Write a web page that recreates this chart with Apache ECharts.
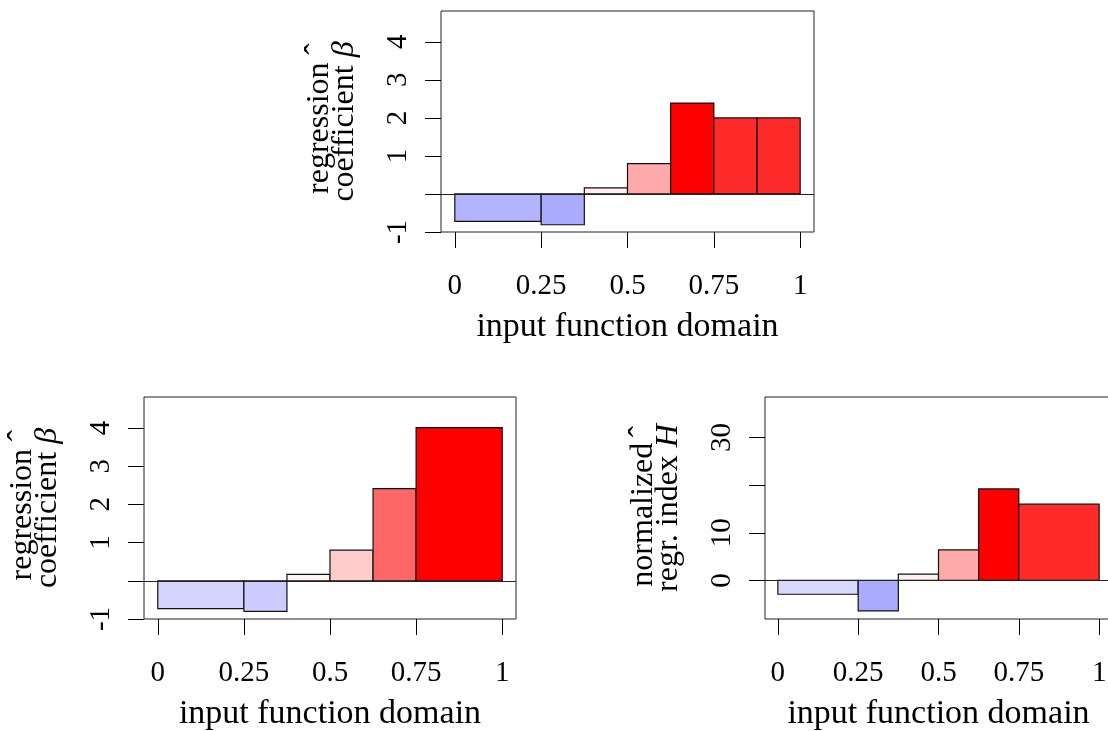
<!DOCTYPE html>
<html>
<head>
<meta charset="utf-8">
<script src="https://cdn.jsdelivr.net/npm/echarts@6/dist/echarts.min.js"></script>
<style>
html,body{margin:0;padding:0;background:#fff;}
#c{width:1108px;height:731px;}
</style>
</head>
<body>
<div id="c"></div>
<script>
// ---- data ----
const xTickValues = [0, 0.25, 0.5, 0.75, 1];
const xTickLabels = ['0', '0.25', '0.5', '0.75', '1'];

// top panel: regression coefficient (fine bins)
const topStarts = [0, 0.25, 0.375, 0.5, 0.625, 0.75, 0.875];
const topEnds   = [0.25, 0.375, 0.5, 0.625, 0.75, 0.875, 1];
const topBeta   = [-0.72, -0.81, 0.16, 0.80, 2.39, 2.00, 2.00];
const topColors = ['#b3b3ff', '#aaaaff', '#ffeeee', '#ffaaaa', '#ff0000', '#ff2b2b', '#ff2b2b'];

// bottom-left panel: regression coefficient (merged last bin)
const blStarts = [0, 0.25, 0.375, 0.5, 0.625, 0.75];
const blEnds   = [0.25, 0.375, 0.5, 0.625, 0.75, 1];
const blBeta   = [-0.73, -0.80, 0.17, 0.80, 2.41, 4.01];
const blColors = ['#d4d4ff', '#ccccff', '#fff4f4', '#ffcccc', '#ff6666', '#ff0000'];

// bottom-right panel: normalized regression index
const brStarts = [0, 0.25, 0.375, 0.5, 0.625, 0.75];
const brEnds   = [0.25, 0.375, 0.5, 0.625, 0.75, 1];
const brH      = [-2.9, -6.4, 1.3, 6.4, 19.2, 16.0];
const brColors = ['#d8d8ff', '#aaaaff', '#ffefef', '#ffaaaa', '#ff0000', '#ff2b2b'];

const betaTickValues = [-1, 0, 1, 2, 3, 4];
const betaLabelValues = [-1, 1, 2, 3, 4];
const hTickValues = [0, 10, 20, 30];
const hLabelValues = [0, 10, 30];

// ---- chart ----
const FONT = 'Liberation Serif';
const chart = echarts.init(document.getElementById('c'), null, {renderer: 'canvas'});

const richTxt = {
  a: {fontFamily: FONT, fontSize: 32, color: '#000', lineHeight: 25, align: 'center'},
  b: {fontFamily: FONT, fontSize: 32, color: '#000', fontStyle: 'italic', lineHeight: 25, align: 'center'},
  h: {fontFamily: FONT, fontSize: 34, color: '#000', lineHeight: 25, align: 'right', padding: [0, 2, 0, 0]}
};

function xAxisFor(gi) {
  return {
    type: 'value', gridIndex: gi, min: -0.04, max: 1.04,
    name: 'input function domain', nameLocation: 'middle', nameGap: 78,
    nameTextStyle: {fontFamily: FONT, fontSize: 34, color: '#000'},
    axisLine: {show: false, onZero: false},
    splitLine: {show: false},
    axisTick: {show: true, length: 16, inside: false, customValues: xTickValues,
               lineStyle: {color: '#000', width: 1}},
    axisLabel: {show: true, margin: 40, customValues: xTickValues,
                fontFamily: FONT, fontSize: 29, color: '#000',
                formatter: v => xTickLabels[xTickValues.indexOf(v)] ?? String(v)}
  };
}
function yAxisFor(gi, min, max, ticks, labels, name) {
  return {
    type: 'value', gridIndex: gi, min: min, max: max,
    name: name, nameLocation: 'middle', nameGap: 84, nameRotate: 90,
    nameTextStyle: {fontFamily: FONT, fontSize: 32, color: '#000', lineHeight: 25, rich: richTxt},
    axisLine: {show: false, onZero: false},
    splitLine: {show: false},
    axisTick: {show: true, length: 16, inside: false, customValues: ticks,
               lineStyle: {color: '#000', width: 1}},
    axisLabel: {show: true, rotate: 90, margin: 28, customValues: labels,
                fontFamily: FONT, fontSize: 29, color: '#000'}
  };
}

function barSeries(gi, starts, ends, vals, colors) {
  return {
    type: 'custom', xAxisIndex: gi, yAxisIndex: gi,
    data: starts.map((s, i) => [s, ends[i], vals[i]]),
    encode: {x: [0, 1], y: 2},
    renderItem: function (params, api) {
      const p0 = api.coord([api.value(0), 0]);
      const p1 = api.coord([api.value(1), api.value(2)]);
      return {
        type: 'rect',
        shape: {x: p0[0], y: Math.min(p0[1], p1[1]), width: p1[0] - p0[0], height: Math.abs(p1[1] - p0[1])},
        style: {fill: colors[params.dataIndex], stroke: '#111', lineWidth: 1.2}
      };
    },
    markLine: {
      silent: true, symbol: 'none', label: {show: false},
      lineStyle: {color: '#222', width: 1, type: 'solid'},
      data: [{yAxis: 0}]
    },
    z: 2
  };
}

const gridStyle = {show: true, borderColor: '#222', borderWidth: 1, backgroundColor: 'transparent',
                   containLabel: false, outerBoundsMode: 'none'};

chart.setOption({
  animation: false,
  textStyle: {fontFamily: FONT},
  grid: [
    Object.assign({left: 441, top: 11, width: 373, height: 221}, gridStyle),
    Object.assign({left: 144, top: 397, width: 372, height: 222}, gridStyle),
    Object.assign({left: 765, top: 397, width: 347, height: 222}, gridStyle)
  ],
  xAxis: [xAxisFor(0), xAxisFor(1), xAxisFor(2)],
  yAxis: [
    yAxisFor(0, -1, 4.81, betaTickValues, betaLabelValues,
             '{a|regression}{h|ˆ}\n{a|coefficient }{b|β}'),
    yAxisFor(1, -1, 4.81, betaTickValues, betaLabelValues,
             '{a|regression}{h|ˆ}\n{a|coefficient }{b|β}'),
    yAxisFor(2, -8.1, 38.5, hTickValues, hLabelValues,
             '{a|normalized}{h|ˆ}\n{a|regr. index }{b|H}')
  ],
  series: [
    barSeries(0, topStarts, topEnds, topBeta, topColors),
    barSeries(1, blStarts, blEnds, blBeta, blColors),
    barSeries(2, brStarts, brEnds, brH, brColors)
  ]
});
</script>
</body>
</html>
